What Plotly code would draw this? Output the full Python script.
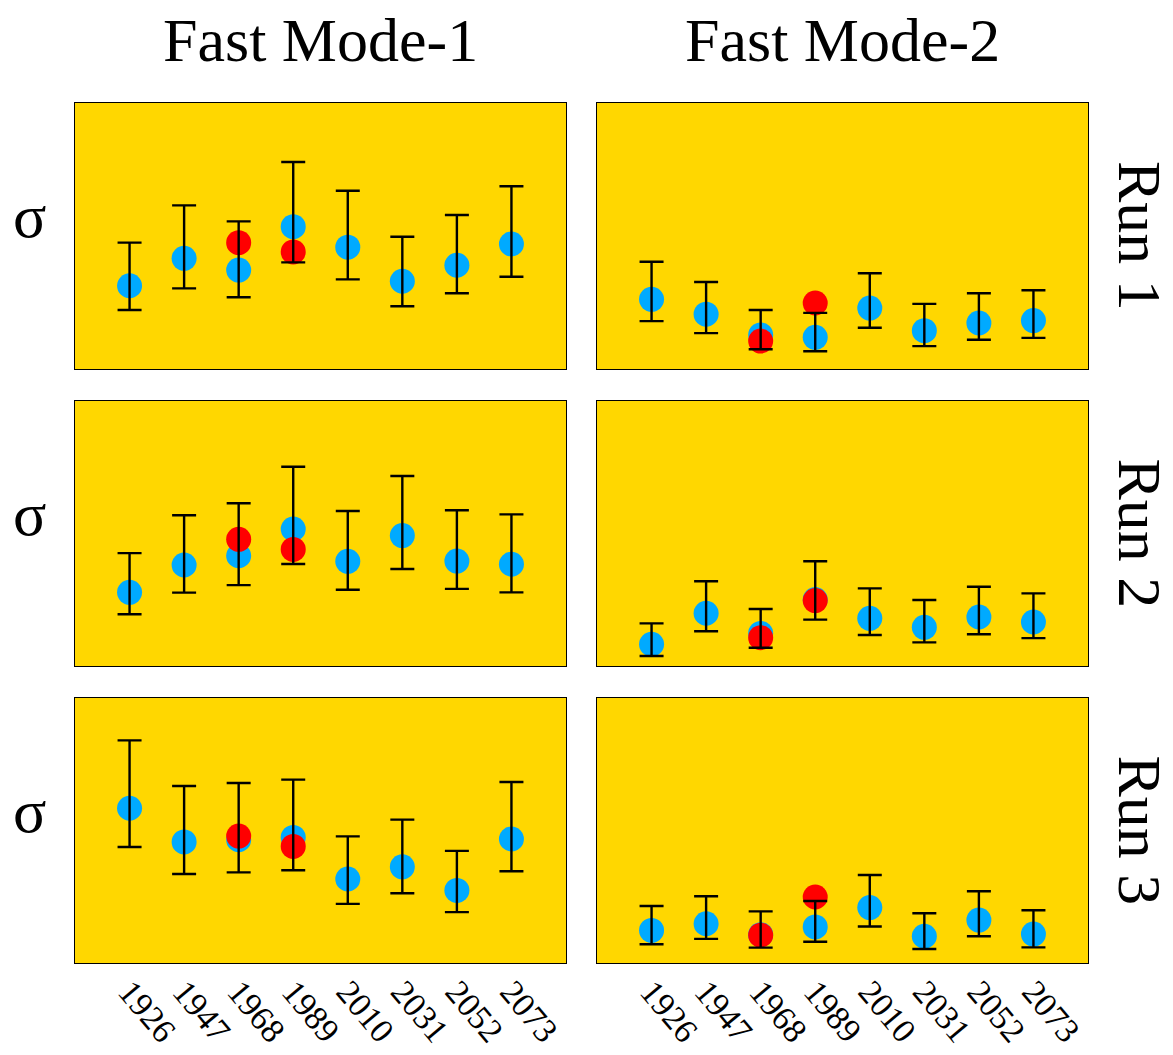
import plotly.graph_objects as go

# Categories along the x axis
years = ["1926", "1947", "1968", "1989", "2010", "2031", "2052", "2073"]

# ---- Fast Mode-1 ----
# Run 1
m1_r1_blue = [31.3, 41.6, 37.2, 53.5, 45.8, 33.0, 39.0, 47.0]
m1_r1_red = [None, None, 47.5, 44.0, None, None, None, None]
m1_r1_hi = [47.5, 61.5, 55.5, 77.8, 67.0, 49.7, 57.9, 68.7]
m1_r1_lo = [22.2, 30.3, 27.0, 40.1, 33.7, 23.6, 28.5, 34.7]
# Run 2
m1_r2_blue = [27.8, 38.1, 41.6, 51.7, 39.5, 49.2, 39.6, 38.4]
m1_r2_red = [None, None, 47.8, 44.0, None, None, None, None]
m1_r2_hi = [42.6, 56.9, 61.4, 75.2, 58.5, 71.7, 58.8, 57.2]
m1_r2_lo = [19.5, 27.7, 30.5, 38.5, 28.8, 36.6, 29.1, 27.8]
# Run 3
m1_r3_blue = [58.4, 45.7, 46.5, 47.4, 31.7, 36.3, 27.4, 46.8]
m1_r3_red = [None, None, 47.9, 44.0, None, None, None, None]
m1_r3_hi = [84.0, 66.8, 67.9, 69.2, 47.8, 54.1, 42.3, 68.3]
m1_r3_lo = [43.8, 33.6, 34.2, 35.0, 22.3, 26.3, 19.2, 34.6]

# ---- Fast Mode-2 ----
# Run 1
m2_r1_blue = [26.2, 20.6, 12.8, 11.9, 22.9, 14.4, 17.3, 18.2]
m2_r1_red = [None, None, 10.5, 24.8, None, None, None, None]
m2_r1_hi = [40.3, 32.7, 22.2, 21.1, 36.0, 24.5, 28.5, 29.6]
m2_r1_lo = [18.0, 13.5, 7.4, 6.7, 15.5, 8.6, 11.0, 11.7]
# Run 2
m2_r2_blue = [8.2, 19.9, 12.3, 25.1, 18.0, 14.6, 18.5, 16.6]
m2_r2_red = [None, None, 10.7, 24.7, None, None, None, None]
m2_r2_hi = [16.1, 32.0, 21.5, 39.5, 29.3, 24.9, 29.9, 27.4]
m2_r2_lo = [3.8, 13.1, 6.9, 17.5, 11.7, 8.9, 12.0, 10.5]
# Run 3
m2_r3_blue = [12.3, 14.8, 10.7, 13.6, 20.9, 10.1, 16.2, 10.9]
m2_r3_red = [None, None, 10.5, 24.9, None, None, None, None]
m2_r3_hi = [21.5, 25.2, 19.5, 23.4, 33.2, 18.8, 27.1, 19.9]
m2_r3_lo = [7.1, 9.1, 5.8, 8.0, 13.8, 5.3, 10.1, 5.9]

col_titles = ["Fast Mode-1", "Fast Mode-2"]
row_titles = ["Run 1", "Run 2", "Run 3"]
row_label = "σ"

panels = [
    [(m1_r1_blue, m1_r1_red, m1_r1_hi, m1_r1_lo), (m2_r1_blue, m2_r1_red, m2_r1_hi, m2_r1_lo)],
    [(m1_r2_blue, m1_r2_red, m1_r2_hi, m1_r2_lo), (m2_r2_blue, m2_r2_red, m2_r2_hi, m2_r2_lo)],
    [(m1_r3_blue, m1_r3_red, m1_r3_hi, m1_r3_lo), (m2_r3_blue, m2_r3_red, m2_r3_hi, m2_r3_lo)],
]

W, H = 1173, 1055
FONT = "Liberation Serif"
GOLD = "#FFD700"
BLUE = "#00AAFF"
RED = "#FF0000"

# Panel boxes in pixels (left, right) and (top, bottom)
col_px = [(75, 566), (597, 1088)]
row_px = [(103, 369), (401, 666), (698, 963)]

fig = go.Figure()
layout = {}

for r in range(3):
    for c in range(2):
        idx = r * 2 + c + 1
        xa = "x" if idx == 1 else f"x{idx}"
        ya = "y" if idx == 1 else f"y{idx}"
        blue, red, hi, lo = panels[r][c]
        err_up = [h - b for h, b in zip(hi, blue)]
        err_dn = [b - l for b, l in zip(blue, lo)]

        fig.add_trace(go.Scatter(
            x=years, y=blue, mode="markers", xaxis=xa, yaxis=ya,
            marker=dict(size=25, color=BLUE, line=dict(width=0)),
            showlegend=False, hoverinfo="skip"))
        fig.add_trace(go.Scatter(
            x=years, y=red, mode="markers", xaxis=xa, yaxis=ya,
            marker=dict(size=25, color=RED, line=dict(width=0)),
            showlegend=False, hoverinfo="skip"))
        fig.add_trace(go.Scatter(
            x=years, y=blue, mode="markers", xaxis=xa, yaxis=ya,
            marker=dict(size=1, color="rgba(0,0,0,0)"),
            error_y=dict(type="data", symmetric=False, array=err_up,
                         arrayminus=err_dn, color="black", thickness=2.4,
                         width=12),
            showlegend=False, hoverinfo="skip"))

        x0, x1 = col_px[c]
        y0, y1 = row_px[r]
        xkey = "xaxis" if idx == 1 else f"xaxis{idx}"
        ykey = "yaxis" if idx == 1 else f"yaxis{idx}"
        layout[xkey] = dict(
            domain=[x0 / W, x1 / W], anchor=ya, type="category",
            categoryorder="array", categoryarray=years,
            range=[-1, len(years)], showgrid=False, zeroline=False,
            showline=True, linecolor="black", linewidth=1, mirror=True,
            ticks="", showticklabels=(r == 2), tickangle=50,
            ticklabelstandoff=-6,
            tickfont=dict(family=FONT, size=34, color="black"),
            automargin=False)
        layout[ykey] = dict(
            domain=[1 - y1 / H, 1 - y0 / H], anchor=xa, range=[0, 100],
            showgrid=False, zeroline=False, showline=True,
            linecolor="black", linewidth=1, mirror=True, ticks="",
            showticklabels=False, automargin=False)

annotations = []
for c, t in enumerate(col_titles):
    annotations.append(dict(
        text=t, x=(col_px[c][0] + col_px[c][1]) / 2 / W, y=1 - 40 / H,
        xref="paper", yref="paper", showarrow=False,
        xanchor="center", yanchor="middle",
        font=dict(family=FONT, size=62, color="black")))
for r, t in enumerate(row_titles):
    yc = (row_px[r][0] + row_px[r][1]) / 2
    annotations.append(dict(
        text=t, x=1140 / W, y=1 - yc / H, xref="paper", yref="paper",
        showarrow=False, xanchor="center", yanchor="middle", textangle=90,
        font=dict(family=FONT, size=62, color="black")))
    annotations.append(dict(
        text=row_label, x=29 / W, y=1 - (yc - 20) / H, xref="paper",
        yref="paper", showarrow=False, xanchor="center", yanchor="middle",
        font=dict(family=FONT, size=62, color="black")))

fig.update_layout(
    width=W, height=H, margin=dict(l=0, r=0, t=0, b=0),
    paper_bgcolor="white", plot_bgcolor=GOLD,
    font=dict(family=FONT),
    annotations=annotations, **layout)

fig.write_html("out.html")
